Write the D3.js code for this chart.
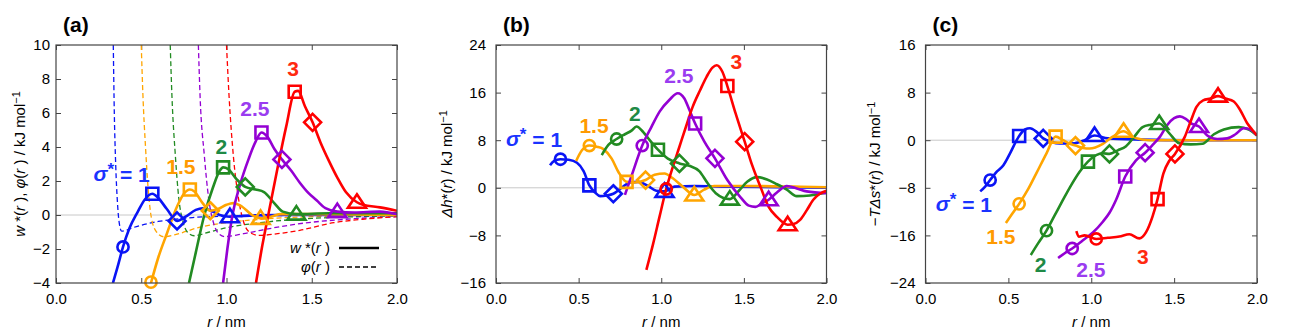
<!DOCTYPE html>
<html>
<head>
<meta charset="utf-8">
<script src="https://cdnjs.cloudflare.com/ajax/libs/d3/7.8.5/d3.min.js"></script>
<style>
  body { margin: 0; background: #fff; }
  svg { font-family: "Liberation Sans", Arial, sans-serif; }
</style>
</head>
<body>
<svg id="chart" width="1291" height="332"></svg>
<script>
// series: sigma* = 1, 1.5, 2, 2.5, 3
const sigmaLabels = ["1", "1.5", "2", "2.5", "3"];
const seriesColors = ["#0a14f5", "#ffa500", "#228b22", "#9400d3", "#ff0000"];
const labelColors = ["#1a33ff", "#ff9a00", "#1f8a46", "#9a3cf0", "#ff2a10"];

const xTicks = [0.0, 0.5, 1.0, 1.5, 2.0];
const yTicksA = [-4, -2, 0, 2, 4, 6, 8, 10];
const yTicksB = [-16, -8, 0, 8, 16, 24];
const yTicksC = [-24, -16, -8, 0, 8, 16];

// (a) w*(r), solid
const w1 = [[0.334,-4],[0.36,-3.1],[0.393,-1.88],[0.43,-0.8],[0.48,0.2],[0.52,0.9],[0.565,1.25],[0.60,1.0],[0.65,0.35],[0.71,-0.35],[0.76,-0.1],[0.82,0.3],[0.86,0.4],[0.90,0.3],[0.96,0.0],[1.02,-0.1],[1.1,-0.05],[1.3,0.0],[1.6,0.0],[2.0,0.0]];
const w15 = [[0.557,-4],[0.60,-2.5],[0.65,-1.1],[0.71,0.5],[0.75,1.25],[0.785,1.5],[0.81,1.4],[0.86,0.7],[0.905,0.25],[0.95,0.35],[1.0,0.6],[1.04,0.7],[1.09,0.5],[1.15,0.0],[1.20,-0.2],[1.26,-0.1],[1.32,0.05],[1.5,0.05],[2.0,0.0]];
const w2 = [[0.78,-4],[0.82,-2.2],[0.87,0.0],[0.92,1.6],[0.96,2.6],[0.98,2.8],[1.01,2.7],[1.06,2.1],[1.11,1.65],[1.17,1.5],[1.22,1.35],[1.28,0.7],[1.33,0.2],[1.41,0.05],[1.6,0.1],[1.8,0.1],[2.0,0.1]];
const w25 = [[0.98,-4],[1.005,-2.0],[1.035,0.0],[1.08,1.8],[1.13,3.3],[1.17,4.3],[1.205,4.85],[1.24,4.6],[1.28,3.9],[1.325,3.27],[1.38,2.6],[1.43,1.9],[1.48,1.3],[1.53,0.85],[1.58,0.4],[1.65,0.2],[1.75,0.15],[1.9,0.2],[2.0,0.05]];
const w3 = [[1.173,-4],[1.21,-1.8],[1.245,0.0],[1.30,2.8],[1.35,5.2],[1.40,7.25],[1.42,7.3],[1.46,6.4],[1.505,5.45],[1.55,4.3],[1.60,3.2],[1.65,2.2],[1.70,1.35],[1.765,0.75],[1.8,0.6],[1.9,0.45],[2.0,0.25]];

// (a) phi(r), dashed
const phi1 = [[0.336,10],[0.342,6],[0.35,3],[0.36,0.8],[0.37,-0.4],[0.385,-0.95],[0.41,-0.9],[0.45,-0.75],[0.5,-0.6],[0.6,-0.38],[0.7,-0.25],[0.8,-0.15],[1.0,-0.07],[1.5,-0.02],[2.0,0.0]];
const phi15 = [[0.50,10],[0.51,7],[0.525,4],[0.54,1.6],[0.56,-0.2],[0.59,-1.0],[0.63,-1.28],[0.70,-1.15],[0.85,-0.7],[1.0,-0.45],[1.2,-0.25],[1.5,-0.1],[2.0,-0.03]];
const phi2 = [[0.67,10],[0.68,7],[0.70,3.5],[0.72,1.0],[0.745,-0.4],[0.77,-1.0],[0.81,-1.22],[0.9,-1.0],[1.0,-0.75],[1.2,-0.45],[1.5,-0.2],[2.0,-0.06]];
const phi25 = [[0.835,10],[0.845,7],[0.87,3.5],[0.895,1.0],[0.925,-0.5],[0.95,-1.05],[0.99,-1.27],[1.1,-1.1],[1.2,-0.9],[1.4,-0.55],[1.7,-0.25],[2.0,-0.1]];
const phi3 = [[1.0,10],[1.015,7],[1.04,3.5],[1.07,1.0],[1.10,-0.4],[1.14,-1.05],[1.19,-1.2],[1.3,-1.1],[1.43,-0.9],[1.63,-0.45],[1.8,-0.25],[2.0,-0.1]];

// (b) dh*(r)
const dh1 = [[0.327,3.8],[0.35,4.5],[0.39,4.8],[0.44,4.7],[0.49,4.2],[0.53,2.8],[0.565,0.4],[0.60,-0.8],[0.63,-1.4],[0.67,-1.3],[0.71,-1.0],[0.76,0.0],[0.81,0.9],[0.86,1.0],[0.92,0.3],[0.97,-0.5],[1.02,-0.6],[1.08,0.2],[1.2,0.3],[1.4,0.2],[1.7,0.1],[2.0,0.0]];
const dh15 = [[0.485,4.5],[0.52,6.3],[0.565,7.1],[0.61,6.9],[0.65,6.5],[0.70,4.9],[0.74,2.7],[0.79,1.0],[0.84,0.9],[0.905,1.3],[0.96,2.2],[1.02,2.4],[1.07,1.6],[1.13,0.2],[1.20,-1.2],[1.26,-0.3],[1.32,0.3],[1.5,0.3],[1.8,0.2],[2.0,0.1]];
const dh2 = [[0.64,5.5],[0.68,7.2],[0.73,8.2],[0.78,9.0],[0.82,9.6],[0.85,10.3],[0.89,9.4],[0.93,8.0],[0.98,6.4],[1.04,4.9],[1.11,4.1],[1.17,3.7],[1.23,2.8],[1.28,0.8],[1.33,-0.9],[1.415,-1.9],[1.47,-0.5],[1.52,1.0],[1.58,1.8],[1.64,1.4],[1.70,0.6],[1.76,-0.3],[1.82,-1.4],[1.9,-1.3],[2.0,-0.8]];
const dh25 = [[0.78,-1.2],[0.82,2.0],[0.885,7.1],[0.94,10.2],[0.99,12.8],[1.05,14.8],[1.10,15.9],[1.14,15.0],[1.17,13.1],[1.205,10.8],[1.26,7.8],[1.325,4.95],[1.40,1.3],[1.48,-1.6],[1.53,-3.0],[1.57,-3.2],[1.61,-2.6],[1.65,-2.0],[1.70,-0.8],[1.76,0.3],[1.82,-0.1],[1.88,-0.6],[2.0,-0.9]];
const dh3 = [[0.91,-13.8],[0.95,-9.5],[0.99,-4.8],[1.03,-0.2],[1.07,3.5],[1.11,6.9],[1.15,10.3],[1.19,13.6],[1.235,16.4],[1.275,18.7],[1.31,20.2],[1.335,20.6],[1.37,19.5],[1.40,17.1],[1.45,12.5],[1.505,7.75],[1.55,3.8],[1.60,0.2],[1.65,-3.2],[1.70,-4.9],[1.765,-6.2],[1.80,-6.1],[1.84,-5.4],[1.88,-3.8],[1.92,-2.0],[1.96,-1.0],[2.0,-0.5]];

// (c) -T ds*(r)
const ts1 = [[0.33,-8.6],[0.36,-7.8],[0.39,-6.7],[0.43,-5.3],[0.47,-4.2],[0.51,-2.2],[0.55,0.0],[0.565,0.7],[0.60,1.8],[0.63,2.0],[0.67,1.4],[0.71,0.3],[0.76,-0.3],[0.81,-0.55],[0.90,-0.5],[0.96,0.0],[1.02,0.8],[1.1,0.3],[1.3,0.1],[1.6,0.0],[2.0,0.0]];
const ts15 = [[0.485,-13.9],[0.52,-12.5],[0.565,-10.7],[0.62,-8.2],[0.67,-5.5],[0.73,-2.2],[0.785,0.6],[0.83,0.0],[0.87,-0.6],[0.905,-0.9],[0.95,-1.3],[0.99,-1.4],[1.07,-0.6],[1.13,0.6],[1.195,1.5],[1.26,0.4],[1.35,0.0],[1.6,0.0],[2.0,0.0]];
const ts2 = [[0.635,-19.3],[0.68,-17.3],[0.73,-15.2],[0.78,-12.6],[0.83,-10.0],[0.88,-7.5],[0.93,-5.3],[0.98,-3.6],[1.03,-2.5],[1.07,-2.2],[1.11,-2.3],[1.16,-1.7],[1.21,-1.0],[1.26,0.6],[1.31,2.2],[1.36,2.6],[1.41,2.8],[1.47,1.2],[1.53,-0.5],[1.60,-0.7],[1.67,-0.6],[1.74,1.0],[1.80,1.8],[1.89,2.2],[1.95,1.8],[2.0,0.8]];
const ts25 = [[0.80,-19.8],[0.84,-19.0],[0.885,-18.2],[0.95,-16.8],[1.01,-15.5],[1.07,-13.7],[1.11,-12.2],[1.15,-10.0],[1.205,-6.1],[1.27,-3.4],[1.325,-2.1],[1.37,-0.8],[1.415,0.6],[1.46,2.6],[1.50,3.7],[1.535,4.0],[1.57,3.6],[1.605,2.8],[1.65,2.3],[1.70,0.8],[1.76,0.2],[1.82,0.3],[1.87,1.0],[1.92,2.0],[1.96,1.8],[2.0,0.8]];
const ts3 = [[0.91,-15.3],[0.925,-16.2],[0.96,-16.0],[1.03,-16.6],[1.10,-16.4],[1.17,-16.2],[1.23,-15.8],[1.29,-16.5],[1.33,-15.5],[1.37,-12.8],[1.40,-9.9],[1.435,-5.6],[1.47,-3.5],[1.505,-2.3],[1.565,0.6],[1.60,3.2],[1.635,5.6],[1.675,6.7],[1.72,7.0],[1.765,7.4],[1.81,7.0],[1.86,6.5],[1.90,5.0],[1.94,2.9],[1.97,1.8],[2.0,0.8]];

// marker points, order: circle, square, diamond, triangle (null = off scale)
const wMarks = [
  [[0.393,-1.88],[0.565,1.25],[0.71,-0.35],[1.02,-0.1]],
  [[0.557,-3.95],[0.785,1.5],[0.905,0.25],[1.20,-0.2]],
  [null,[0.98,2.8],[1.11,1.65],[1.41,0.05]],
  [null,[1.205,4.85],[1.325,3.27],[1.65,0.2]],
  [null,[1.40,7.25],[1.505,5.45],[1.765,0.75]]
];
const dhMarks = [
  [[0.39,4.8],[0.565,0.4],[0.71,-1.0],[1.02,-0.6]],
  [[0.565,7.1],[0.79,1.0],[0.905,1.3],[1.20,-1.2]],
  [[0.73,8.2],[0.98,6.4],[1.11,4.1],[1.415,-1.9]],
  [[0.885,7.1],[1.205,10.8],[1.325,4.95],[1.65,-2.0]],
  [[1.03,-0.2],[1.40,17.1],[1.505,7.75],[1.765,-6.2]]
];
const tsMarks = [
  [[0.39,-6.7],[0.565,0.7],[0.71,0.3],[1.02,0.8]],
  [[0.565,-10.7],[0.785,0.6],[0.905,-0.9],[1.195,1.5]],
  [[0.73,-15.2],[0.98,-3.6],[1.11,-2.3],[1.41,2.8]],
  [[0.885,-18.2],[1.205,-6.1],[1.325,-2.1],[1.65,2.3]],
  [[1.03,-16.6],[1.40,-9.9],[1.505,-2.3],[1.765,7.4]]
];

// sigma label anchor points (data coords, text centre)
const labelAtA = [[0.385,2.47],[0.733,2.84],[0.97,4.02],[1.167,6.29],[1.39,8.65]];
const labelAtB = [[0.23,8.37],[0.593,10.55],[0.84,12.57],[1.107,18.96],[1.455,21.2]];
const labelAtC = [[0.232,-10.55],[0.455,-16.2],[0.694,-20.96],[0.998,-21.8],[1.312,-19.6]];

const svg = d3.select("#chart");
const plotTop = 45, plotBottom = 283;

const panels = [
  { tag: "(a)", left: 56, right: 397, yDomain: [-4, 10], yTicks: yTicksA, lines: [w1, w15, w2, w25, w3],
    dashed: [phi1, phi15, phi2, phi25, phi3], marks: wMarks, labels: labelAtA, gap: 6, ylabX: 20, ylab: "a" },
  { tag: "(b)", left: 496, right: 826.5, yDomain: [-16, 24], yTicks: yTicksB, lines: [dh1, dh15, dh2, dh25, dh3],
    dashed: null, marks: dhMarks, labels: labelAtB, gap: 10, ylabX: 447, ylab: "b" },
  { tag: "(c)", left: 925.5, right: 1257, yDomain: [-24, 16], yTicks: yTicksC, lines: [ts1, ts15, ts2, ts25, ts3],
    dashed: null, marks: tsMarks, labels: labelAtC, gap: 10, ylabX: 875, ylab: "c" }
];

const fmtMinus = v => (v < 0 ? "\u2212" + Math.abs(v) : String(v));

function markerPath(kind) {
  const p = d3.path();
  if (kind === 0) { p.arc(0, 0, 5.6, 0, 2 * Math.PI); }
  else if (kind === 1) { p.rect(-6, -6, 12, 12); }
  else if (kind === 2) { p.moveTo(0, -8.5); p.lineTo(8.5, 0); p.lineTo(0, 8.5); p.lineTo(-8.5, 0); p.closePath(); }
  else { p.moveTo(0, -8); p.lineTo(9, 5.5); p.lineTo(-9, 5.5); p.closePath(); }
  return p.toString();
}

panels.forEach((P, pi) => {
  const x = d3.scaleLinear().domain([0, 2]).range([P.left, P.right]);
  const y = d3.scaleLinear().domain(P.yDomain).range([plotBottom, plotTop]);
  const g = svg.append("g");
  const clipId = "clip" + pi;
  svg.append("clipPath").attr("id", clipId).append("rect")
    .attr("x", P.left).attr("y", plotTop).attr("width", P.right - P.left).attr("height", plotBottom - plotTop);

  // zero line
  g.append("line").attr("x1", P.left).attr("x2", P.right).attr("y1", y(0)).attr("y2", y(0))
    .attr("stroke", "#c8c8c8").attr("stroke-width", 1);

  // axes with inward ticks, mirrored
  const axStyle = sel => {
    sel.select(".domain").remove();
    sel.selectAll(".tick line").attr("stroke", "#444").attr("stroke-width", 1);
  };
  g.append("g").attr("transform", `translate(0,${plotBottom})`)
    .call(d3.axisBottom(x).tickValues(xTicks).tickSize(-5).tickFormat(d3.format(".1f")).tickPadding(10))
    .call(axStyle)
    .selectAll("text").attr("font-size", 15).attr("fill", "#000").attr("font-family", "Liberation Sans, Arial, sans-serif");
  g.append("g").attr("transform", `translate(0,${plotTop})`)
    .call(d3.axisTop(x).tickValues(xTicks).tickSize(-5).tickFormat(""))
    .call(axStyle);
  g.append("g").attr("transform", `translate(${P.left},0)`)
    .call(d3.axisLeft(y).tickValues(P.yTicks).tickSize(-5).tickFormat(fmtMinus).tickPadding(P.gap))
    .call(axStyle)
    .selectAll("text").attr("font-size", 15).attr("fill", "#000").attr("font-family", "Liberation Sans, Arial, sans-serif");
  g.append("g").attr("transform", `translate(${P.right},0)`)
    .call(d3.axisRight(y).tickValues(P.yTicks).tickSize(-5).tickFormat(""))
    .call(axStyle);

  const line = d3.line().x(d => x(d[0])).y(d => y(d[1])).curve(d3.curveMonotoneX);
  const plot = g.append("g").attr("clip-path", `url(#${clipId})`);

  if (P.dashed) {
    P.dashed.forEach((s, i) => {
      plot.append("path").datum(s).attr("d", line).attr("fill", "none")
        .attr("stroke", seriesColors[i]).attr("stroke-width", 1.3).attr("stroke-dasharray", "5,3");
    });
  }
  P.lines.forEach((s, i) => {
    plot.append("path").datum(s).attr("d", line).attr("fill", "none")
      .attr("stroke", seriesColors[i]).attr("stroke-width", 2.6).attr("stroke-linejoin", "round");
  });

  // markers
  P.marks.forEach((ms, i) => {
    ms.forEach((m, k) => {
      if (!m) return;
      g.append("path").attr("d", markerPath(k))
        .attr("transform", `translate(${x(m[0])},${y(m[1])})`)
        .attr("fill", "none").attr("stroke", seriesColors[i]).attr("stroke-width", 2.6);
    });
  });

  // frame
  g.append("rect").attr("x", P.left).attr("y", plotTop).attr("width", P.right - P.left)
    .attr("height", plotBottom - plotTop).attr("fill", "none").attr("stroke", "#444").attr("stroke-width", 1.2);

  // sigma labels
  P.labels.forEach((pos, i) => {
    const t = g.append("text").attr("x", x(pos[0])).attr("y", y(pos[1])).attr("dy", "0.36em")
      .attr("text-anchor", "middle").attr("font-size", 21).attr("font-weight", "bold")
      .attr("fill", labelColors[i]);
    if (i === 0) {
      t.append("tspan").attr("font-style", "italic").text("\u03c3");
      t.append("tspan").attr("dy", "-0.3em").attr("font-size", 17).text("*");
      t.append("tspan").attr("dy", "0.3em").text(" = 1");
    } else {
      t.text(sigmaLabels[i]);
    }
  });

  // panel tag
  svg.append("text").attr("x", P.left + 7).attr("y", 32).attr("font-size", 21).attr("font-weight", "bold")
    .text(P.tag);

  // x title
  const xt = svg.append("text").attr("x", (P.left + P.right) / 2).attr("y", 327)
    .attr("text-anchor", "middle").attr("font-size", 15);
  xt.append("tspan").attr("font-style", "italic").text("r");
  xt.append("tspan").text(" / nm");

  // y title
  const yt = svg.append("text").attr("transform", `translate(${P.ylabX},${(plotTop + plotBottom) / 2}) rotate(-90)`)
    .attr("text-anchor", "middle").attr("dy", "0.35em").attr("font-size", 15);
  const it = s => yt.append("tspan").attr("font-style", "italic").text(s);
  const rm = s => yt.append("tspan").text(s);
  if (P.ylab === "a") {
    it("w"); rm(" *("); it("r"); rm(" ), "); it("\u03c6"); rm("("); it("r"); rm(" ) / kJ mol");
  } else if (P.ylab === "b") {
    it("\u0394h"); rm("*("); it("r"); rm(") / kJ mol");
  } else {
    rm("\u2212"); it("T\u0394s"); rm("*("); it("r"); rm(") / kJ mol");
  }
  yt.append("tspan").attr("dy", "-0.45em").attr("font-size", 11).text("\u22121");

  // legend in (a)
  if (P.dashed) {
    const lx0 = 339, lx1 = 379;
    const lg = svg.append("g");
    const t1 = lg.append("text").attr("x", 330).attr("y", 253).attr("text-anchor", "end").attr("font-size", 15);
    t1.append("tspan").attr("font-style", "italic").text("w");
    t1.append("tspan").text(" *(");
    t1.append("tspan").attr("font-style", "italic").text("r");
    t1.append("tspan").text(" )");
    lg.append("line").attr("x1", lx0).attr("x2", lx1).attr("y1", 248).attr("y2", 248)
      .attr("stroke", "#000").attr("stroke-width", 2.6);
    const t2 = lg.append("text").attr("x", 330).attr("y", 272).attr("text-anchor", "end").attr("font-size", 15);
    t2.append("tspan").attr("font-style", "italic").text("\u03c6");
    t2.append("tspan").text("(");
    t2.append("tspan").attr("font-style", "italic").text("r");
    t2.append("tspan").text(" )");
    lg.append("line").attr("x1", lx0).attr("x2", lx1).attr("y1", 267).attr("y2", 267)
      .attr("stroke", "#000").attr("stroke-width", 1.3).attr("stroke-dasharray", "5,3");
  }
});
</script>
</body>
</html>
